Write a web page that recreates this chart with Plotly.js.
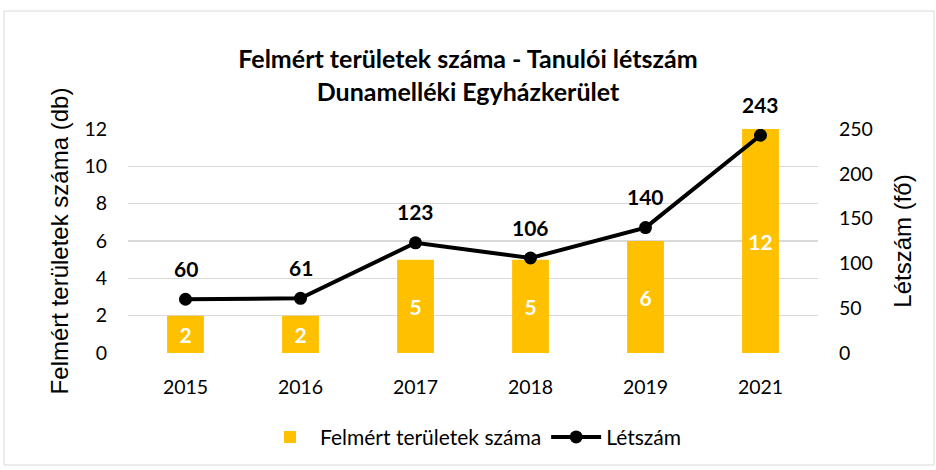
<!DOCTYPE html>
<html>
<head>
<meta charset="utf-8">
<script src="https://cdn.plot.ly/plotly-3.0.1.min.js"></script>
<style>html,body{margin:0;padding:0;background:#fff;}#chart{width:936px;height:470px;}</style>
</head>
<body>
<div id="chart"></div>
<script>
const years = ['2015', '2016', '2017', '2018', '2019', '2021'];
const areas = [2, 2, 5, 5, 6, 12];
const headcount = [60, 61, 123, 106, 140, 243];
const barName = 'Felmért területek száma';
const lineName = 'Létszám';

const tickFont = {family: 'Lato, Carlito, sans-serif', size: 19.5, color: '#000'};

const traces = [
  {
    type: 'bar', x: years, y: areas, name: barName,
    marker: {color: '#FFC000'},
    text: areas.map(String), textposition: 'inside', insidetextanchor: 'middle',
    textfont: {family: 'Lato, sans-serif', size: 21, color: '#fff', weight: 'bold'},
    hoverinfo: 'x+y', cliponaxis: false
  },
  {
    type: 'scatter', mode: 'lines+markers', x: years, y: headcount, name: lineName,
    yaxis: 'y2',
    line: {color: '#000', width: 4},
    marker: {color: '#000', size: 13}
  }
];

const annotations = years.map((yr, i) => ({
  x: i, y: headcount[i], xref: 'x', yref: 'y2',
  text: '<b>' + headcount[i] + '</b>', showarrow: false,
  yshift: 31, font: {family: 'Lato, sans-serif', size: 21, color: '#000'}
}));

const layout = {
  width: 936, height: 470,
  margin: {l: 128, r: 118, t: 129, b: 115},
  paper_bgcolor: '#fff', plot_bgcolor: '#fff',
  title: {
    text: '<b>Felmért területek száma - Tanulói létszám</b><br><b>Dunamelléki Egyházkerület</b>',
    font: {family: 'Lato, sans-serif', size: 25, color: '#000'},
    x: 0.5, xanchor: 'center', y: 1 - 68 / 470, yanchor: 'middle', yref: 'container'
  },
  bargap: 0.68,
  xaxis: {
    type: 'category', range: [-0.5, years.length - 0.5], autorange: false,
    tickfont: tickFont, showgrid: false, zeroline: false,
    showline: false, ticks: '', ticklabelstandoff: 20, automargin: false
  },
  yaxis: {
    range: [0, 12], dtick: 2, tickfont: tickFont,
    gridcolor: '#d9d9d9', gridwidth: 1.3, zeroline: false, showline: false,
    ticks: '', ticklabelstandoff: 20, automargin: false,
    title: {text: 'Felmért területek száma (db)', font: {family: 'Liberation Sans, Arial, sans-serif', size: 24, color: '#000'}, standoff: 8}
  },
  yaxis2: {
    range: [0, 250], dtick: 50, overlaying: 'y', side: 'right', tickfont: tickFont,
    showgrid: false, zeroline: false, showline: false,
    ticks: '', ticklabelstandoff: 20, automargin: false,
    title: {text: 'Létszám (fő)', font: {family: 'Liberation Sans, Arial, sans-serif', size: 24, color: '#000'}, standoff: 22}
  },
  legend: {
    orientation: 'h', x: 0.5, xanchor: 'center', y: (355 - 440) / 226, yanchor: 'middle',
    font: {family: 'Lato, sans-serif', size: 21, color: '#000'}, itemwidth: 50,
    traceorder: 'normal'
  },
  annotations: annotations,
  shapes: [{
    type: 'rect', xref: 'paper', yref: 'paper',
    x0: (4 - 128) / 690, x1: (934 - 128) / 690, y0: (355 - 468) / 226, y1: (355 - 10) / 226,
    line: {color: '#d9d9d9', width: 1}, fillcolor: 'rgba(0,0,0,0)', layer: 'below'
  }],
  showlegend: true
};

Plotly.newPlot('chart', traces, layout, {displayModeBar: false, staticPlot: true});
</script>
</body>
</html>
